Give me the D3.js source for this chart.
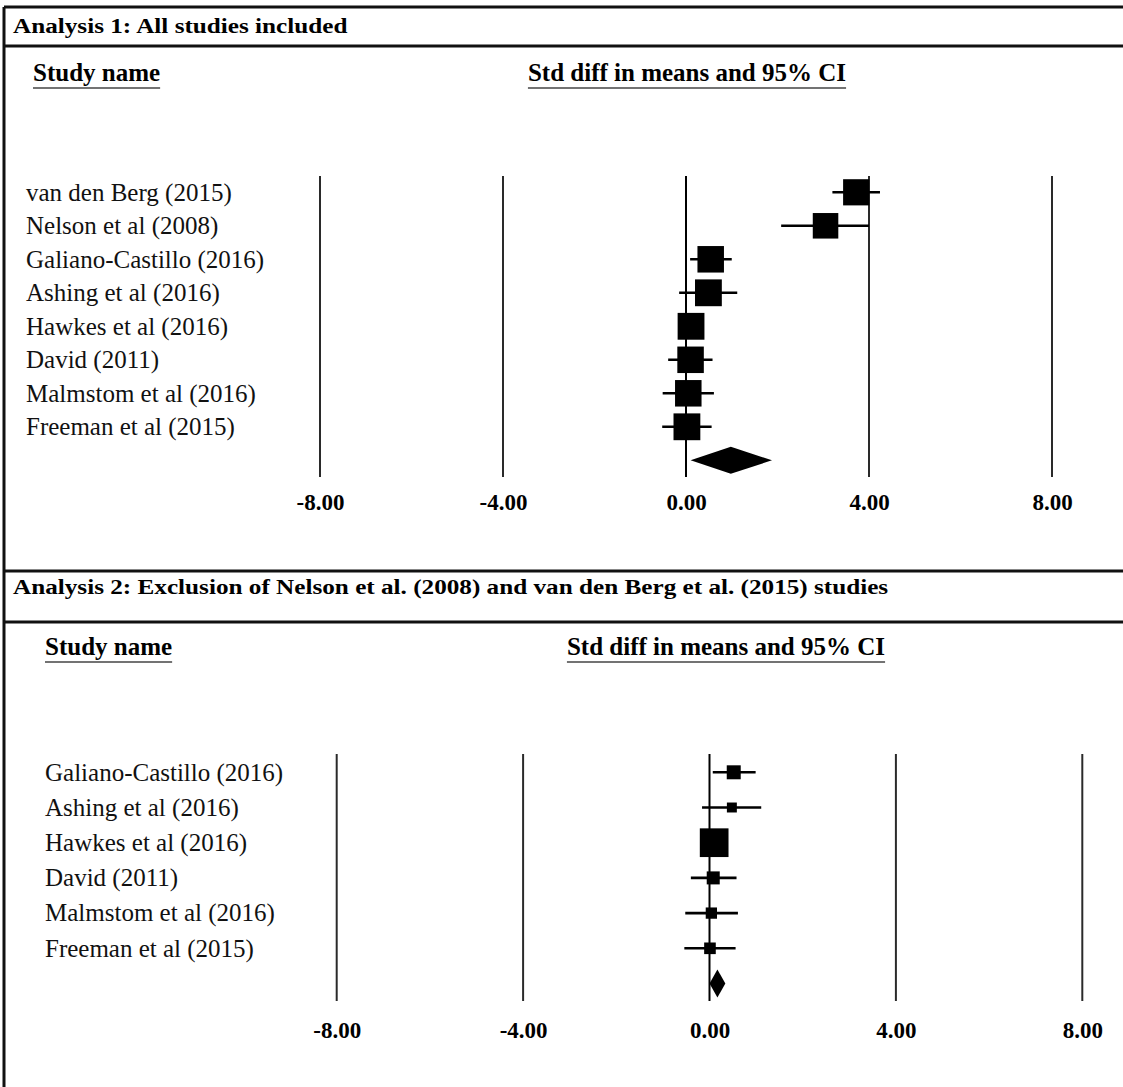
<!DOCTYPE html>
<meta charset="utf-8">
<style>
body { margin: 0; background: #fff; }
svg { display: block; font-family: "Liberation Serif", "Times New Roman", serif; }
.title { font-weight: bold; font-size: 20px; }
.head { font-weight: bold; font-size: 25px; }
.study { font-size: 25px; }
.tick text { font-weight: bold; font-size: 23px; font-family: "Liberation Serif", serif; }
</style>
<body>
<svg width="1123" height="1087"></svg>
<script src="https://cdnjs.cloudflare.com/ajax/libs/d3/7.8.5/d3.min.js"></script>
<script>
// axis ticks shared by both panels
var ticks = [-8, -4, 0, 4, 8];

// Analysis 1: all studies
var studies1 = ["van den Berg (2015)", "Nelson et al (2008)", "Galiano-Castillo (2016)", "Ashing et al (2016)",
                "Hawkes et al (2016)", "David (2011)", "Malmstom et al (2016)", "Freeman et al (2015)"];
var est1 = [3.72, 3.05, 0.54, 0.49, 0.11, 0.10, 0.05, 0.02];
var lo1  = [3.20, 2.08, 0.09, -0.15, -0.12, -0.39, -0.51, -0.52];
var hi1  = [4.24, 4.00, 1.00, 1.12, 0.32, 0.58, 0.61, 0.56];
var wt1  = [12.2, 11.6, 12.5, 12.8, 12.8, 12.5, 12.5, 12.8];
var pooled1 = [0.98, 0.10, 1.88]; // estimate, lower, upper

// Analysis 2: Nelson and van den Berg removed
var studies2 = ["Galiano-Castillo (2016)", "Ashing et al (2016)", "Hawkes et al (2016)",
                "David (2011)", "Malmstom et al (2016)", "Freeman et al (2015)"];
var est2 = [0.52, 0.48, 0.10, 0.08, 0.04, 0.01];
var lo2  = [0.07, -0.16, -0.12, -0.40, -0.52, -0.54];
var hi2  = [0.99, 1.11, 0.32, 0.58, 0.61, 0.56];
var wt2  = [12.6, 6.4, 53.1, 10.9, 8.2, 8.7];
var pooled2 = [0.17, 0.00, 0.34];

var svg = d3.select("svg");

// frame
var frame = svg.append("g").attr("stroke", "#111").attr("stroke-width", 3);
frame.append("line").attr("x1", 4).attr("x2", 1123).attr("y1", 7).attr("y2", 7);
frame.append("line").attr("x1", 4).attr("x2", 4).attr("y1", 7).attr("y2", 1087);
frame.append("line").attr("x1", 4).attr("x2", 1123).attr("y1", 46).attr("y2", 46);
frame.append("line").attr("x1", 4).attr("x2", 1123).attr("y1", 571).attr("y2", 571);
frame.append("line").attr("x1", 4).attr("x2", 1123).attr("y1", 622).attr("y2", 622);

function stretchedTitle(txt, x, y) {
  svg.append("text").attr("class", "title")
    .attr("transform", "translate(" + x + "," + y + ") scale(1.26,1)")
    .text(txt);
}
stretchedTitle("Analysis 1: All studies included", 13, 33);
stretchedTitle("Analysis 2: Exclusion of Nelson et al. (2008) and van den Berg et al. (2015) studies", 13, 594);

function header(txt, x, y, anchor) {
  var t = svg.append("text").attr("class", "head")
    .attr("x", x).attr("y", y).attr("text-anchor", anchor).text(txt);
  var b = t.node().getBBox();
  svg.append("line").attr("x1", b.x).attr("x2", b.x + b.width)
    .attr("y1", y + 7).attr("y2", y + 7)
    .attr("stroke", "#444").attr("stroke-width", 1.6);
}

function drawPanel(p) {
  var n = p.names.length;
  var x = d3.scaleLinear().domain([-8, 8]).range(p.xr);
  var y = d3.scaleLinear().domain([0, n]).range(p.yr);
  var size = d3.scaleSqrt().domain([0, p.wmax]).range([0, p.smax]);
  var g = svg.append("g");

  header("Study name", p.headX, p.headY, "start");
  header("Std diff in means and 95% CI", p.ciX, p.headY, "middle");

  // vertical reference lines
  g.selectAll(".ref").data(ticks).enter().append("line")
    .attr("x1", function(d) { return x(d); }).attr("x2", function(d) { return x(d); })
    .attr("y1", p.lineY[0]).attr("y2", p.lineY[1])
    .attr("stroke", function(d) { return d === 0 ? "#000" : "#2a2a2a"; })
    .attr("stroke-width", 2);

  var rows = d3.range(n);

  g.selectAll(".lbl").data(rows).enter().append("text")
    .attr("class", "study")
    .attr("x", p.nameX)
    .attr("y", function(i) { return y(i); })
    .attr("dy", "0.33em")
    .attr("fill", "#111")
    .text(function(i) { return p.names[i]; });

  g.selectAll(".ci").data(rows).enter().append("line")
    .attr("x1", function(i) { return x(p.lo[i]); })
    .attr("x2", function(i) { return x(p.hi[i]); })
    .attr("y1", function(i) { return y(i); }).attr("y2", function(i) { return y(i); })
    .attr("stroke", "#000").attr("stroke-width", 2.6);

  g.selectAll(".box").data(rows).enter().append("rect")
    .attr("x", function(i) { return x(p.est[i]) - size(p.wt[i]) / 2; })
    .attr("y", function(i) { return y(i) - size(p.wt[i]) / 2; })
    .attr("width", function(i) { return size(p.wt[i]); })
    .attr("height", function(i) { return size(p.wt[i]); })
    .attr("fill", "#000");

  var py = y(n), h = p.dh;
  g.append("path")
    .attr("d", "M" + x(p.pooled[1]) + "," + py + "L" + x(p.pooled[0]) + "," + (py - h) +
               "L" + x(p.pooled[2]) + "," + py + "L" + x(p.pooled[0]) + "," + (py + h) + "Z")
    .attr("fill", "#000");

  var fmt = d3.format(".2f");
  var ax = g.append("g").attr("transform", "translate(0," + p.tickY + ")")
    .call(d3.axisBottom(x).tickValues(ticks).tickSize(0).tickPadding(0)
      .tickFormat(function(d) { return fmt(d).replace("\u2212", "-"); }));
  ax.select(".domain").remove();
  ax.selectAll("text").attr("fill", "#000").attr("dy", "0.35em").attr("y", 0);
}

drawPanel({
  names: studies1, est: est1, lo: lo1, hi: hi1, wt: wt1, pooled: pooled1,
  xr: [320, 1052], yr: [192.3, 460.3], lineY: [176, 477],
  wmax: 12.5, smax: 26.5, dh: 13.5, tickY: 502,
  headX: 33, nameX: 26, ciX: 687, headY: 81
});

drawPanel({
  names: studies2, est: est2, lo: lo2, hi: hi2, wt: wt2, pooled: pooled2,
  xr: [336.7, 1082.3], yr: [772.3, 983.5], lineY: [754, 1001],
  wmax: 53.1, smax: 28.7, dh: 14, tickY: 1030,
  headX: 45, nameX: 45, ciX: 726, headY: 655
});
</script>
</body>
